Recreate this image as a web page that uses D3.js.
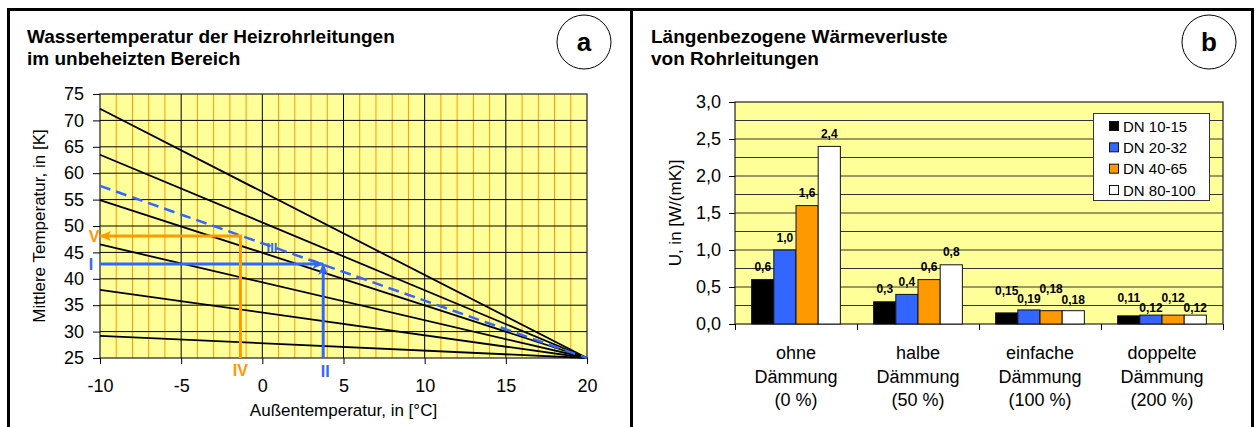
<!DOCTYPE html>
<html>
<head>
<meta charset="utf-8">
<script src="https://cdn.jsdelivr.net/npm/d3@7"></script>
<style>
  body { margin: 0; background: #fff; }
  svg { display: block; }
  text { font-family: "Liberation Sans", Arial, sans-serif; fill: #000; }
</style>
</head>
<body>
<svg id="chart" width="1256" height="427"></svg>
<script>
// ---------- Panel a: mean water temperature vs. outdoor temperature ----------
const outdoorTicks = [-10, -5, 0, 5, 10, 15, 20];
const waterTempTicks = [25, 30, 35, 40, 45, 50, 55, 60, 65, 70, 75];
// Each characteristic runs from -10 °C to the common point at 20 °C / 25 K
const lineStartTemps = [72.2, 63.5, 54.9, 46.5, 37.9, 29.2];
const lineEndPoint = [20, 25];
const dashedStartTemp = 57.6;
// Reading examples (outdoor temperature, water temperature)
const blueReading = [3.75, 42.8];
const orangeReading = [-1.35, 48.1];

// ---------- Panel b: linear heat losses of pipes ----------
const insulationGroups = [
  ["ohne", "Dämmung", "(0 %)"],
  ["halbe", "Dämmung", "(50 %)"],
  ["einfache", "Dämmung", "(100 %)"],
  ["doppelte", "Dämmung", "(200 %)"]
];
const seriesNames = ["DN 10-15", "DN 20-32", "DN 40-65", "DN 80-100"];
const dn10_15 = [0.6, 0.3, 0.15, 0.11];
const dn20_32 = [1.0, 0.4, 0.19, 0.12];
const dn40_65 = [1.6, 0.6, 0.18, 0.12];
const dn80_100 = [2.4, 0.8, 0.18, 0.12];
const uTicks = [0, 0.5, 1.0, 1.5, 2.0, 2.5, 3.0];

const seriesValues = [dn10_15, dn20_32, dn40_65, dn80_100];
const seriesColors = ["#000000", "#3366FF", "#FF9900", "#FFFFFF"];

const svg = d3.select("#chart");
const FONT_BOLD = 700;
const BLUE = "#3366FF", ORANGE = "#FF9900", PLOT_BG = "#FFFF99";

// ---------- frame ----------
const frame = svg.append("g");
frame.append("path")
  .attr("d", "M8.5,427 L8.5,9.5 L1252.5,9.5 L1252.5,427 M631.5,9.5 L631.5,427")
  .attr("fill", "none").attr("stroke", "#000").attr("stroke-width", 3);

function titleBlock(x, lines) {
  const t = svg.append("text").attr("x", x).attr("y", 43)
    .attr("font-size", 19).attr("font-weight", FONT_BOLD);
  lines.forEach((l, i) => t.append("tspan").attr("x", x).attr("dy", i ? 21.5 : 0).text(l));
}
function badge(cx, letter) {
  svg.append("circle").attr("cx", cx).attr("cy", 42).attr("r", 27)
    .attr("fill", "#fff").attr("stroke", "#000").attr("stroke-width", 1);
  svg.append("text").attr("x", cx).attr("y", 51).attr("text-anchor", "middle")
    .attr("font-size", 26).attr("font-weight", FONT_BOLD).text(letter);
}

// ================= Panel a =================
titleBlock(27, ["Wassertemperatur der Heizrohrleitungen", "im unbeheizten Bereich"]);
badge(584, "a");

const ax = { left: 100, right: 587, top: 94, bottom: 358 };
const x = d3.scaleLinear().domain([-10, 20]).range([ax.left, ax.right]);
const y = d3.scaleLinear().domain([25, 75]).range([ax.bottom, ax.top]);

const pa = svg.append("g");
pa.append("rect").attr("x", ax.left).attr("y", ax.top)
  .attr("width", ax.right - ax.left).attr("height", ax.bottom - ax.top)
  .attr("fill", PLOT_BG);

// minor vertical grid (every degree) in orange, major ones in black
const minorX = d3.range(-9, 20).filter(v => v % 5 !== 0);
pa.selectAll(".minor").data(minorX).join("line")
  .attr("x1", d => x(d)).attr("x2", d => x(d))
  .attr("y1", ax.top).attr("y2", ax.bottom)
  .attr("stroke", ORANGE).attr("stroke-width", 1);
pa.selectAll(".majorx").data(outdoorTicks.slice(1, -1)).join("line")
  .attr("x1", d => x(d)).attr("x2", d => x(d))
  .attr("y1", ax.top).attr("y2", ax.bottom)
  .attr("stroke", "#000").attr("stroke-width", 1);
pa.selectAll(".majory").data(waterTempTicks.slice(1, -1)).join("line")
  .attr("x1", ax.left).attr("x2", ax.right)
  .attr("y1", d => y(d)).attr("y2", d => y(d))
  .attr("stroke", "#000").attr("stroke-width", 1);
pa.append("rect").attr("x", ax.left).attr("y", ax.top)
  .attr("width", ax.right - ax.left).attr("height", ax.bottom - ax.top)
  .attr("fill", "none").attr("stroke", "#222").attr("stroke-width", 1.2);

const lineGen = d3.line().x(d => x(d[0])).y(d => y(d[1]));
pa.selectAll(".curve").data(lineStartTemps).join("path")
  .attr("d", v => lineGen([[-10, v], lineEndPoint]))
  .attr("fill", "none").attr("stroke", "#000").attr("stroke-width", 1.8);
pa.append("path")
  .attr("d", lineGen([[-10, dashedStartTemp], lineEndPoint]))
  .attr("fill", "none").attr("stroke", BLUE).attr("stroke-width", 2.5)
  .attr("stroke-dasharray", "11,6");

// arrow heads
const defs = svg.append("defs");
function marker(id, color) {
  defs.append("marker").attr("id", id)
    .attr("viewBox", "0 0 12 10").attr("refX", 11).attr("refY", 5)
    .attr("markerWidth", 12).attr("markerHeight", 10)
    .attr("markerUnits", "userSpaceOnUse").attr("orient", "auto")
    .append("path").attr("d", "M0,0 L12,5 L0,10 L3,5 Z").attr("fill", color);
}
marker("headBlue", BLUE);
marker("headOrange", ORANGE);

// blue example: outdoor 3.75 °C -> dashed line -> water temperature
pa.append("path").attr("d", lineGen([[-10, blueReading[1]], blueReading]))
  .attr("stroke", BLUE).attr("stroke-width", 3).attr("fill", "none")
  .attr("marker-end", "url(#headBlue)");
pa.append("path").attr("d", lineGen([[blueReading[0], 25], blueReading]))
  .attr("stroke", BLUE).attr("stroke-width", 3).attr("fill", "none")
  .attr("marker-end", "url(#headBlue)");
// orange example: outdoor -1.35 °C -> dashed line -> water temperature
pa.append("path")
  .attr("d", lineGen([[orangeReading[0], 25], orangeReading, [-10, orangeReading[1]]]))
  .attr("stroke", ORANGE).attr("stroke-width", 3).attr("fill", "none")
  .attr("marker-end", "url(#headOrange)");

// step markers
const stepLabels = [
  { t: "I", px: x(-10) - 9, py: y(blueReading[1]) + 6, c: BLUE, s: 16 },
  { t: "II", px: x(blueReading[0]) + 2, py: ax.bottom + 19, c: BLUE, s: 16 },
  { t: "III", px: 272, py: y(46.1) + 5, c: BLUE, s: 13 },
  { t: "IV", px: x(orangeReading[0]), py: ax.bottom + 18, c: ORANGE, s: 16 },
  { t: "V", px: x(-10) - 6, py: y(orangeReading[1]) + 6, c: ORANGE, s: 16 }
];
pa.selectAll(".step").data(stepLabels).join("text")
  .attr("x", d => d.px).attr("y", d => d.py).attr("text-anchor", "middle")
  .attr("font-size", d => d.s).attr("font-weight", FONT_BOLD)
  .style("fill", d => d.c).text(d => d.t);

// axes
const axLeft = pa.append("g").attr("transform", `translate(${ax.left},0)`)
  .call(d3.axisLeft(y).tickValues(waterTempTicks).tickSize(7).tickPadding(9)
    .tickFormat(d => String(d)));
const axBottom = pa.append("g").attr("transform", `translate(0,${ax.bottom})`)
  .call(d3.axisBottom(x).tickValues(outdoorTicks).tickSize(6).tickPadding(15)
    .tickFormat(d => String(d)));
[axLeft, axBottom].forEach(g => {
  g.select(".domain").remove();
  g.selectAll(".tick line").attr("stroke", "#000");
  g.selectAll(".tick text").attr("font-size", 18)
    .attr("font-family", "Liberation Sans, Arial, sans-serif").style("fill", "#000");
});
svg.append("text").attr("x", (ax.left + ax.right) / 2).attr("y", 416)
  .attr("text-anchor", "middle").attr("font-size", 17).text("Außentemperatur, in [°C]");
svg.append("text").attr("transform", `translate(39,${(ax.top + ax.bottom) / 2}) rotate(-90)`)
  .attr("text-anchor", "middle").attr("dominant-baseline", "central")
  .attr("font-size", 17).text("Mittlere Temperatur, in [K]");

// ================= Panel b =================
titleBlock(651, ["Längenbezogene Wärmeverluste", "von Rohrleitungen"]);
badge(1209, "b");

const bx = { left: 735, right: 1223, top: 102, bottom: 324 };
const xb = d3.scaleBand().domain(d3.range(insulationGroups.length))
  .range([bx.left, bx.right]).paddingInner(0).paddingOuter(0);
const groupWidth = xb.bandwidth() * 4 / 5.5;
const xs = d3.scaleBand().domain(d3.range(seriesNames.length))
  .range([(xb.bandwidth() - groupWidth) / 2, (xb.bandwidth() + groupWidth) / 2]);
const yb = d3.scaleLinear().domain([0, 3]).range([bx.bottom, bx.top]);

const pb = svg.append("g");
pb.append("rect").attr("x", bx.left).attr("y", bx.top)
  .attr("width", bx.right - bx.left).attr("height", bx.bottom - bx.top)
  .attr("fill", PLOT_BG);
pb.selectAll(".grid").data(d3.range(1, 12).map(i => i * 0.25)).join("line")
  .attr("x1", bx.left).attr("x2", bx.right)
  .attr("y1", d => yb(d)).attr("y2", d => yb(d))
  .attr("stroke", "#333").attr("stroke-width", 1);
pb.append("rect").attr("x", bx.left).attr("y", bx.top)
  .attr("width", bx.right - bx.left).attr("height", bx.bottom - bx.top)
  .attr("fill", "none").attr("stroke", "#222").attr("stroke-width", 1.2);

// bars
const barData = [];
seriesValues.forEach((vals, s) => vals.forEach((v, g) => barData.push({ s, g, v })));
pb.selectAll(".bar").data(barData).join("rect")
  .attr("x", d => xb(d.g) + xs(d.s)).attr("width", xs.bandwidth())
  .attr("y", d => yb(d.v)).attr("height", d => yb(0) - yb(d.v))
  .attr("fill", d => seriesColors[d.s]).attr("stroke", "#111").attr("stroke-width", 1);

// value labels; in the narrow groups every other label is lifted
const labelLift = [12.5, 12.5, 11, 7];
const staggerLift = 10.5;
const fmt = v => (Math.round(v * 10) === v * 10 ? v.toFixed(1) : v.toFixed(2)).replace(".", ",");
pb.selectAll(".val").data(barData).join("text")
  .attr("x", d => xb(d.g) + xs(d.s) + xs.bandwidth() / 2)
  .attr("y", d => yb(d.v) - labelLift[d.g] - (d.g >= 2 && d.s % 2 === 0 ? staggerLift : 0))
  .attr("dominant-baseline", "central").attr("text-anchor", "middle")
  .attr("font-size", 12).attr("font-weight", FONT_BOLD).text(d => fmt(d.v));

// axes
const bLeft = pb.append("g").attr("transform", `translate(${bx.left},0)`)
  .call(d3.axisLeft(yb).tickValues(uTicks).tickSize(6).tickPadding(8)
    .tickFormat(d => d.toFixed(1).replace(".", ",")));
const boundary = d3.scaleLinear().domain([0, insulationGroups.length]).range([bx.left, bx.right]);
const bBottom = pb.append("g").attr("transform", `translate(0,${bx.bottom})`)
  .call(d3.axisBottom(boundary).tickValues(d3.range(insulationGroups.length + 1))
    .tickSize(6).tickFormat(""));
[bLeft, bBottom].forEach(g => {
  g.select(".domain").remove();
  g.selectAll(".tick line").attr("stroke", "#000");
  g.selectAll(".tick text").attr("font-size", 18)
    .attr("font-family", "Liberation Sans, Arial, sans-serif").style("fill", "#000");
});

// category labels
const cat = pb.selectAll(".cat").data(insulationGroups).join("text")
  .attr("text-anchor", "middle").attr("font-size", 18);
cat.each(function (lines, i) {
  const cx = xb(i) + xb.bandwidth() / 2;
  d3.select(this).selectAll("tspan").data(lines).join("tspan")
    .attr("x", cx).attr("y", (d, j) => 359 + j * 23.5).text(d => d);
});

svg.append("text").attr("transform", `translate(675,${(bx.top + bx.bottom) / 2}) rotate(-90)`)
  .attr("text-anchor", "middle").attr("dominant-baseline", "central")
  .attr("font-size", 17).text("U, in [W/(mK)]");

// legend
const lg = pb.append("g");
lg.append("rect").attr("x", 1093.5).attr("y", 113.5).attr("width", 116).attr("height", 87)
  .attr("fill", "#fff").attr("stroke", "#333").attr("stroke-width", 1);
const lgRow = d3.scalePoint().domain(seriesNames).range([126, 190]);
const items = lg.selectAll(".item").data(seriesNames).join("g")
  .attr("transform", d => `translate(1109,${lgRow(d)})`);
items.append("rect").attr("x", 0.5).attr("y", -4.5).attr("width", 9).attr("height", 9)
  .attr("fill", (d, i) => seriesColors[i]).attr("stroke", "#111").attr("stroke-width", 1);
items.append("text").attr("x", 14).attr("dominant-baseline", "central")
  .attr("font-size", 15).text(d => d);
</script>
</body>
</html>
